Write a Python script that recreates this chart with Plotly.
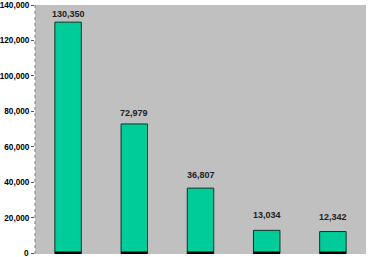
import plotly.graph_objects as go

categories = ["A", "B", "C", "D", "E"]
values = [130350, 72979, 36807, 13034, 12342]
labels = ["130,350", "72,979", "36,807", "13,034", "12,342"]
tick_vals = [0, 20000, 40000, 60000, 80000, 100000, 120000, 140000]
tick_text = ["0", "20,000", "40,000", "60,000", "80,000", "100,000", "120,000", "140,000"]

font = "Liberation Sans, Arial"

fig = go.Figure()
fig.add_trace(go.Bar(
    x=categories, y=values, width=0.4,
    marker=dict(color="#00CC99", line=dict(color="#0d3326", width=1)),
    hoverinfo="skip",
))
# dark base of each bar
fig.add_trace(go.Bar(
    x=categories, y=[1100] * len(categories), width=0.4,
    marker=dict(color="#000000", line=dict(color="#000000", width=0)),
    hoverinfo="skip",
))
for c, v, t in zip(categories, values, labels):
    fig.add_annotation(x=c, y=v, text="<b>" + t + "</b>", showarrow=False,
                       yanchor="bottom", yshift=8.8 - 6e-5 * v,
                       font=dict(family=font, size=9, color="#222222"))

# the lowest tick label would be hidden at the page edge; draw it as text
fig.add_annotation(xref="paper", x=0, y=tick_vals[0], text="<b>" + tick_text[0] + "</b>",
                   showarrow=False, xanchor="right", yanchor="middle", xshift=-4,
                   font=dict(family=font, size=8.2, color="black"))

fig.add_shape(type="line", xref="paper", yref="paper", x0=0, x1=0, y0=0, y1=1,
              line=dict(color="#808080", width=1, dash="dot"))

fig.update_layout(
    width=368, height=257,
    margin=dict(l=35, r=2, t=5, b=3),
    paper_bgcolor="white", plot_bgcolor="#C0C0C0",
    showlegend=False, barmode="overlay",
)
fig.update_xaxes(showticklabels=False, showgrid=False, zeroline=False,
                 range=[-0.5, 4.5], fixedrange=True)
fig.update_yaxes(range=[-300, 140000], tickvals=tick_vals,
                 ticktext=[""] + tick_text[1:],
                 showgrid=False, zeroline=False, automargin=False,
                 ticks="outside", ticklen=3, tickcolor="#555555",
                 showline=False,
                 tickfont=dict(family=font, size=8.2, color="black", weight="bold"))
fig.write_html("out.html")
